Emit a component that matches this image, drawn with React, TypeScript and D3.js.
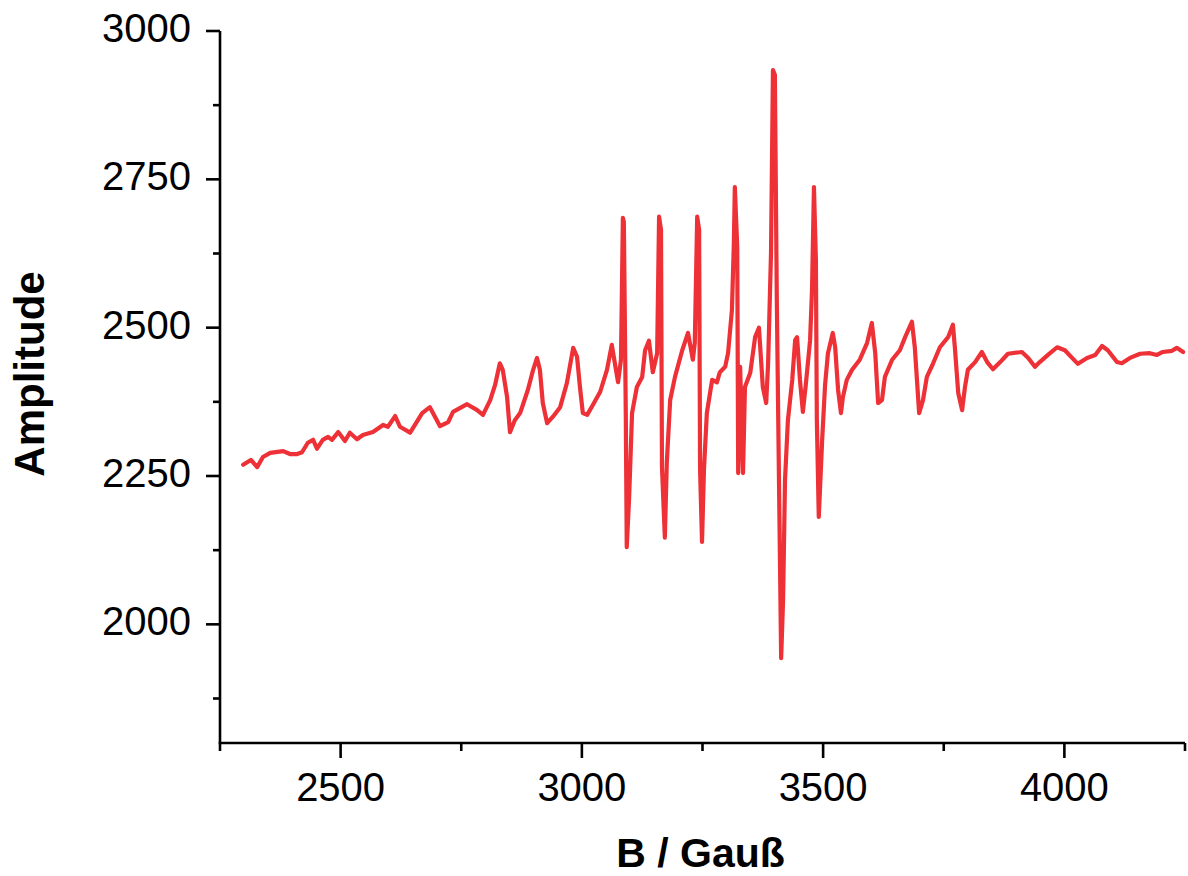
import React from "react";
import * as d3 from "d3";

const fieldB: number[] = [
  2298, 2314, 2327, 2339, 2354, 2381, 2395, 2410, 2420, 2432, 2443, 2451, 2463, 2474, 2482, 2495, 2509, 2519, 2534, 2546,
  2567, 2588, 2598, 2613, 2623, 2644, 2654, 2669, 2685, 2706, 2723, 2733, 2762, 2783, 2795, 2810, 2820, 2830, 2836, 2845,
  2851, 2861, 2872, 2888, 2899, 2907, 2913, 2919, 2928, 2940, 2955, 2969, 2982, 2990, 2996, 3002, 3011, 3023, 3038, 3052,
  3062, 3069, 3075, 3081, 3085, 3087, 3091, 3093, 3098, 3104, 3114, 3125, 3131, 3139, 3147, 3156, 3160, 3164, 3166, 3172,
  3176, 3183, 3193, 3208, 3220, 3230, 3234, 3239, 3243, 3245, 3249, 3253, 3259, 3270, 3280, 3286, 3297, 3303, 3311, 3315,
  3317, 3322, 3324, 3328, 3334, 3338, 3349, 3359, 3367, 3375, 3382, 3386, 3392, 3396, 3400, 3404, 3409, 3413, 3417, 3421,
  3427, 3436, 3442, 3446, 3452, 3458, 3464, 3473, 3477, 3481, 3485, 3487, 3491, 3498, 3504, 3510, 3520, 3525, 3531, 3537,
  3541, 3549, 3560, 3576, 3591, 3601, 3608, 3614, 3622, 3628, 3643, 3659, 3670, 3684, 3690, 3699, 3707, 3715, 3728, 3742,
  3759, 3769, 3773, 3780, 3788, 3794, 3800, 3815, 3829, 3840, 3852, 3867, 3883, 3912, 3925, 3939, 3949, 3966, 3985, 4001,
  4016, 4028, 4047, 4064, 4078, 4090, 4109, 4119, 4136, 4157, 4177, 4192, 4204, 4223, 4233, 4246,
];

const amplitude: number[] = [
  2269, 2277, 2265, 2282, 2289, 2292, 2287, 2287, 2290, 2306, 2311, 2296, 2311, 2316, 2311, 2324, 2309, 2323, 2312, 2319,
  2324, 2336, 2333, 2351, 2333, 2323, 2336, 2356, 2366, 2334, 2341, 2358, 2371, 2361, 2353, 2378, 2403, 2440, 2429, 2383,
  2324, 2344, 2356, 2395, 2429, 2449, 2429, 2373, 2339, 2350, 2366, 2407, 2466, 2451, 2400, 2356, 2353, 2370, 2392, 2429,
  2471, 2437, 2408, 2446, 2685, 2678, 2356, 2130, 2215, 2356, 2400, 2417, 2462, 2478, 2425, 2457, 2687, 2665, 2265, 2146,
  2272, 2378, 2417, 2462, 2491, 2446, 2474, 2687, 2665, 2260, 2139, 2260, 2356, 2412, 2408, 2425, 2434, 2457, 2530, 2643,
  2737, 2636, 2255, 2434, 2255, 2400, 2424, 2484, 2500, 2400, 2373, 2440, 2626, 2934, 2926, 2547, 2210, 1943, 2041, 2243,
  2344, 2412, 2479, 2484, 2412, 2358, 2403, 2479, 2564, 2737, 2614, 2344, 2181, 2311, 2403, 2457, 2491, 2467, 2395, 2356,
  2383, 2412, 2429, 2446, 2474, 2508, 2457, 2373, 2378, 2417, 2446, 2462, 2484, 2510, 2467, 2356, 2378, 2417, 2440, 2467,
  2484, 2505, 2467, 2390, 2361, 2400, 2429, 2442, 2459, 2442, 2430, 2442, 2456, 2459, 2449, 2434, 2442, 2454, 2467, 2462,
  2449, 2439, 2449, 2454, 2469, 2462, 2442, 2440, 2449, 2456, 2457, 2454, 2459, 2461, 2466, 2459,
];

const xMajorTicks: number[] = [2500, 3000, 3500, 4000];
const xMinorTicks: number[] = [2250, 2750, 3250, 3750, 4250];
const yMajorTicks: number[] = [2000, 2250, 2500, 2750, 3000];
const yMinorTicks: number[] = [1875, 2125, 2375, 2625, 2875];

const xTitle = "B / Gauß";
const yTitle = "Amplitude";

export default function App() {
  const W = 1188;
  const H = 876;
  const left = 220;
  const right = 1185;
  const top = 31;
  const bottom = 743;

  const x = d3.scaleLinear().domain([2250, 4250]).range([left, right]);
  const y = d3.scaleLinear().domain([1800, 3000]).range([bottom, top]);

  const pts: [number, number][] = fieldB.map((b, i) => [b, amplitude[i]]);
  const line = d3
    .line<[number, number]>()
    .x((d) => x(d[0]))
    .y((d) => y(d[1]))
    .curve(d3.curveLinear);

  const font = "'Liberation Sans', Arial, sans-serif";

  return (
    <svg
      width={W}
      height={H}
      style={{ position: "absolute", left: 0, top: 0, background: "#fff" }}
    >
      <path
        d={line(pts) || ""}
        fill="none"
        stroke="#ee3037"
        strokeWidth={4.2}
        strokeLinejoin="round"
        strokeLinecap="round"
      />
      {/* axes */}
      <line x1={left} y1={top} x2={left} y2={bottom} stroke="#000" strokeWidth={2.6} />
      <line x1={left - 1.3} y1={bottom} x2={right} y2={bottom} stroke="#000" strokeWidth={2.6} />
      {yMajorTicks.map((t) => (
        <g key={"ym" + t}>
          <line x1={left - 14} x2={left} y1={y(t)} y2={y(t)} stroke="#000" strokeWidth={2.6} />
          <text
            x={left - 29}
            y={y(t) + 11}
            textAnchor="end"
            fontFamily={font}
            fontSize={40}
            fill="#000"
          >
            {t}
          </text>
        </g>
      ))}
      {yMinorTicks.map((t) => (
        <line key={"yn" + t} x1={left - 7} x2={left} y1={y(t)} y2={y(t)} stroke="#000" strokeWidth={2.6} />
      ))}
      {xMajorTicks.map((t) => (
        <g key={"xm" + t}>
          <line x1={x(t)} x2={x(t)} y1={bottom} y2={bottom + 15} stroke="#000" strokeWidth={2.6} />
          <text
            x={x(t)}
            y={bottom + 58}
            textAnchor="middle"
            fontFamily={font}
            fontSize={40}
            fill="#000"
          >
            {t}
          </text>
        </g>
      ))}
      {xMinorTicks.map((t) => (
        <line key={"xn" + t} x1={x(t)} x2={x(t)} y1={bottom} y2={bottom + 8} stroke="#000" strokeWidth={2.6} />
      ))}
      <text
        x={(left + right) / 2 - 2}
        y={867}
        textAnchor="middle"
        fontFamily={font}
        fontWeight="bold"
        fontSize={41}
        fill="#000"
      >
        {xTitle}
      </text>
      <text
        transform={`translate(44, ${374}) rotate(-90)`}
        textAnchor="middle"
        fontFamily={font}
        fontWeight="bold"
        fontSize={42}
        fill="#000"
      >
        {yTitle}
      </text>
    </svg>
  );
}
